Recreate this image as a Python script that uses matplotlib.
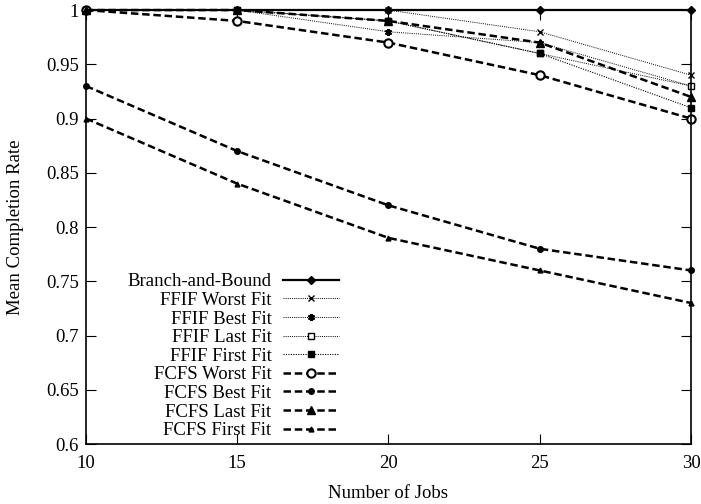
import matplotlib
matplotlib.use('Agg')
import matplotlib.pyplot as plt

plt.rcParams['font.family'] = ['Liberation Serif', 'DejaVu Serif']

jobs = [10, 15, 20, 25, 30]

bnb = [1.0, 1.0, 1.0, 1.0, 1.0]
ffif_worst = [1.0, 1.0, 1.0, 0.98, 0.94]
ffif_best = [1.0, 1.0, 0.98, 0.97, 0.93]
ffif_last = [1.0, 1.0, 0.99, 0.96, 0.93]
ffif_first = [1.0, 1.0, 0.99, 0.96, 0.91]
fcfs_worst = [1.0, 0.99, 0.97, 0.94, 0.90]
fcfs_best = [0.93, 0.87, 0.82, 0.78, 0.76]
fcfs_last = [1.0, 1.0, 0.99, 0.97, 0.92]
fcfs_first = [0.90, 0.84, 0.79, 0.76, 0.73]

yticks = [0.6, 0.65, 0.7, 0.75, 0.8, 0.85, 0.9, 0.95, 1.0]
ytick_labels = ['0.6', '0.65', '0.7', '0.75', '0.8', '0.85', '0.9', '0.95', '1']

fig = plt.figure(figsize=(7.01, 5.04), dpi=100)
ax = fig.add_axes([0.1227, 0.119, 0.863, 0.861])

dot = (0, (1, 1.2))
dash = (0, (3, 1.5))

ax.plot(jobs, bnb, color='black', lw=1.6, ls='-', marker='D', ms=4, label='Branch-and-Bound', clip_on=False)
ax.plot(jobs, ffif_worst, color='black', lw=0.7, ls=dot, marker='x', ms=5, mew=1, label='FFIF Worst Fit', clip_on=False)
ax.plot(jobs, ffif_best, color='black', lw=0.7, ls=dot, marker=(6, 2, 0), ms=5, mew=1.5, label='FFIF Best Fit', clip_on=False)
ax.plot(jobs, ffif_last, color='black', lw=0.7, ls=dot, marker='s', ms=5, mfc='white', mew=1, label='FFIF Last Fit', clip_on=False)
ax.plot(jobs, ffif_first, color='black', lw=0.8, ls=dot, marker='s', ms=5, label='FFIF First Fit', clip_on=False)
ax.plot(jobs, fcfs_worst, color='black', lw=1.8, ls=dash, marker='o', ms=6, mfc='white', mew=1.5, label='FCFS Worst Fit', clip_on=False)
ax.plot(jobs, fcfs_best, color='black', lw=1.8, ls=dash, marker='o', ms=4, label='FCFS Best Fit', clip_on=False)
ax.plot(jobs, fcfs_last, color='black', lw=1.8, ls=dash, marker='^', ms=6, label='FCFS Last Fit', clip_on=False)
ax.plot(jobs, fcfs_first, color='black', lw=1.8, ls=dash, marker='^', ms=3.5, label='FCFS First Fit', clip_on=False)

ax.set_xlim(10, 30)
ax.set_ylim(0.6, 1.0)
ax.set_xticks(jobs)
ax.set_yticks(yticks)
ax.set_yticklabels(ytick_labels)
ax.tick_params(direction='in', top=True, right=True, length=7, labelsize=13.5, pad=5)
ax.tick_params(axis='x', pad=8)
for s in ax.spines.values():
    s.set_linewidth(1.2)

ax.set_xlabel('Number of Jobs', fontsize=13.5, labelpad=9)
ax.set_ylabel('Mean Completion Rate', fontsize=13.5, labelpad=16)

ax.legend(loc='lower left', bbox_to_anchor=(0.05, -0.015), frameon=False, markerfirst=False,
          fontsize=13.5, handlelength=3.0, handletextpad=0.6, labelspacing=0.08,
          borderaxespad=0.2)

fig.savefig('out.png', dpi=100)
